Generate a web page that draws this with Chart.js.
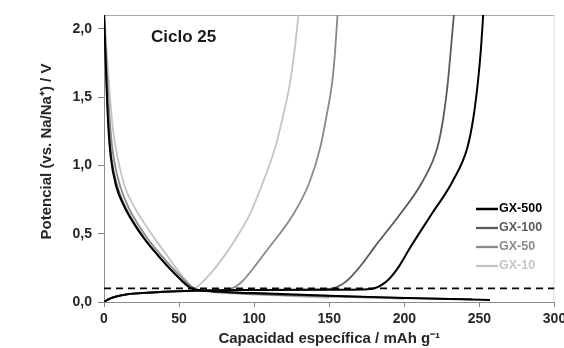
<!DOCTYPE html>
<html>
<head>
<meta charset="utf-8">
<script src="https://cdn.jsdelivr.net/npm/chart.js@4"></script>
<style>
html, body { margin: 0; padding: 0; background: #fff; }
</style>
</head>
<body>
<canvas id="cicloChart" width="564" height="348"></canvas>
<script>
// Ejes
const xTicks = [0, 50, 100, 150, 200, 250, 300];
const yTicks = [0, 0.5, 1.0, 1.5, 2.0];
const series = ['GX-500', 'GX-100', 'GX-50', 'GX-10'];

// GX-500 (descarga / carga)
const desX500 = [0, 1, 2, 3, 4.5, 8, 13, 19, 27, 36, 46, 58, 70, 100, 150, 200, 257];
const desY500 = [2.12, 1.8, 1.5, 1.26, 1.06, 0.85, 0.71, 0.59, 0.46, 0.34, 0.22, 0.1, 0.08, 0.065, 0.045, 0.03, 0.015];
const carX500 = [0, 3, 8, 15, 25, 40, 60, 100, 150, 172, 180, 185, 190, 197, 204, 218, 232, 242, 246, 249, 251, 252.5];
const carY500 = [0, 0.02, 0.04, 0.055, 0.065, 0.075, 0.083, 0.088, 0.09, 0.092, 0.1, 0.125, 0.17, 0.27, 0.4, 0.64, 0.88, 1.13, 1.35, 1.61, 1.85, 2.1];

// GX-100
const desX100 = [0, 1, 2, 3.5, 5, 9, 14, 20, 28, 37, 47, 59, 70, 100, 150, 200, 245];
const desY100 = [2.12, 1.78, 1.48, 1.24, 1.05, 0.84, 0.7, 0.58, 0.45, 0.33, 0.21, 0.1, 0.08, 0.06, 0.045, 0.03, 0.02];
const carX100 = [0, 3, 8, 15, 25, 40, 60, 100, 140, 150, 155, 160, 165, 172, 180, 197, 212, 222, 226, 229, 231, 233];
const carY100 = [0, 0.02, 0.04, 0.055, 0.065, 0.075, 0.083, 0.088, 0.09, 0.095, 0.11, 0.14, 0.19, 0.28, 0.4, 0.64, 0.88, 1.13, 1.35, 1.61, 1.85, 2.1];

// GX-50
const desX50 = [0, 1.5, 3, 4.5, 6.5, 11, 16, 22, 30, 39, 49, 60, 70, 100, 150, 200];
const desY50 = [2.12, 1.78, 1.48, 1.24, 1.05, 0.84, 0.7, 0.58, 0.45, 0.33, 0.21, 0.1, 0.08, 0.06, 0.04, 0.025];
const carX50 = [0, 3, 8, 15, 25, 40, 60, 78, 84, 88, 92, 96, 101, 110, 126, 137, 144, 148, 152, 154, 155.5];
const carY50 = [0, 0.02, 0.04, 0.055, 0.065, 0.075, 0.083, 0.088, 0.095, 0.115, 0.15, 0.2, 0.27, 0.4, 0.64, 0.88, 1.13, 1.35, 1.61, 1.85, 2.1];

// GX-10
const desX10 = [0, 2, 4, 6, 9, 14, 20, 26, 34, 42, 50, 60, 70, 90, 120, 150];
const desY10 = [2.15, 1.8, 1.5, 1.26, 1.06, 0.84, 0.7, 0.59, 0.46, 0.34, 0.22, 0.1, 0.075, 0.06, 0.045, 0.03];
const carX10 = [0, 3, 8, 15, 25, 40, 55, 60, 65, 71, 77, 87, 97, 106, 114, 119, 124, 127, 129.5];
const carY10 = [0, 0.02, 0.04, 0.055, 0.065, 0.075, 0.082, 0.095, 0.14, 0.21, 0.29, 0.45, 0.64, 0.88, 1.13, 1.35, 1.61, 1.85, 2.1];

// linea de corte
const corteX = [0, 300];
const corteY = [0.1, 0.1];

const colores = ['#000000', '#5a5a5a', '#8a8a8a', '#c4c4c4'];
const grosores = [2, 1.8, 1.8, 1.8];

function puntos(xs, ys) {
    return xs.map((x, i) => ({ x: x, y: ys[i] }));
}

const curvas = [
    [desX500, desY500, carX500, carY500],
    [desX100, desY100, carX100, carY100],
    [desX50, desY50, carX50, carY50],
    [desX10, desY10, carX10, carY10]
];

const datasets = [{
    label: 'corte',
    data: puntos(corteX, corteY),
    borderColor: '#000000',
    borderWidth: 1.7,
    borderDash: [7, 5],
    pointRadius: 0
}];
curvas.forEach((c, i) => {
    [[c[0], c[1]], [c[2], c[3]]].forEach(par => {
        datasets.push({
            label: series[i],
            data: puntos(par[0], par[1]),
            borderColor: colores[i],
            borderWidth: grosores[i],
            pointRadius: 0,
            cubicInterpolationMode: 'monotone'
        });
    });
});

const fuente = '"Liberation Sans", Arial, sans-serif';
Chart.defaults.font.family = fuente;

// marco, textos y leyenda
const decor = {
    id: 'decor',
    beforeDatasetsDraw(chart) {
        const ctx = chart.ctx;
        const a = chart.chartArea;
        ctx.save();
        ctx.lineWidth = 1;
        ctx.strokeStyle = '#a6a6a6';
        ctx.beginPath();
        ctx.moveTo(a.left, a.top + 0.5);
        ctx.lineTo(a.right, a.top + 0.5);
        ctx.stroke();
        ctx.strokeStyle = '#dcdcdc';
        ctx.beginPath();
        ctx.moveTo(a.right - 0.5, a.top);
        ctx.lineTo(a.right - 0.5, a.bottom);
        ctx.stroke();
        ctx.restore();
    },
    afterDraw(chart) {
        const ctx = chart.ctx;
        ctx.save();
        ctx.fillStyle = '#1a1a1a';
        ctx.font = 'bold 17px ' + fuente;
        ctx.textAlign = 'left';
        ctx.textBaseline = 'alphabetic';
        ctx.fillText('Ciclo 25', 151, 42);

        ctx.save();
        ctx.translate(47, 151.5);
        ctx.rotate(-Math.PI / 2);
        ctx.font = 'bold 15px ' + fuente;
        ctx.fillStyle = '#262626';
        ctx.textAlign = 'center';
        ctx.textBaseline = 'middle';
        ctx.fillText('Potencial (vs. Na/Na\u207A) / V', 0, 0);
        ctx.restore();

        ctx.font = 'bold 12.5px ' + fuente;
        ctx.textBaseline = 'middle';
        series.forEach((s, i) => {
            const y = 209 + i * 19;
            ctx.strokeStyle = colores[i];
            ctx.lineWidth = grosores[i] + 0.5;
            ctx.beginPath();
            ctx.moveTo(476, y);
            ctx.lineTo(498, y);
            ctx.stroke();
            ctx.fillStyle = colores[i];
            ctx.fillText(s, 499, y);
        });
        ctx.restore();
    }
};

new Chart(document.getElementById('cicloChart'), {
    type: 'line',
    data: { datasets: datasets },
    options: {
        responsive: false,
        animation: false,
        layout: { padding: { top: 15, right: 9.5, left: 0, bottom: 0 } },
        plugins: {
            legend: { display: false },
            tooltip: { enabled: false }
        },
        scales: {
            x: {
                type: 'linear',
                min: 0,
                max: 300,
                afterBuildTicks: s => { s.ticks = xTicks.map(v => ({ value: v })); },
                afterFit: s => { s.height = 46; s.paddingLeft = 0; s.paddingRight = 0; },
                ticks: {
                    color: '#262626',
                    font: { size: 14, weight: 'bold' },
                    padding: 4,
                    maxRotation: 0
                },
                grid: { drawOnChartArea: false, tickLength: 5, color: '#808080' },
                border: { color: '#8c8c8c' },
                title: {
                    display: true,
                    text: 'Capacidad espec\u00edfica / mAh g\u207B\u00B9',
                    color: '#262626',
                    font: { size: 15, weight: 'bold' },
                    padding: { top: 0, bottom: 0 }
                }
            },
            y: {
                type: 'linear',
                min: 0,
                max: 2.1,
                afterBuildTicks: s => { s.ticks = yTicks.map(v => ({ value: v })); },
                afterFit: s => { s.width = 104; },
                ticks: {
                    color: '#262626',
                    font: { size: 14, weight: 'bold' },
                    padding: 6,
                    callback: v => v.toFixed(1).replace('.', ',')
                },
                grid: { drawOnChartArea: false, tickLength: 6, color: '#808080' },
                border: { color: '#8c8c8c' }
            }
        }
    },
    plugins: [decor]
});
</script>
</body>
</html>
